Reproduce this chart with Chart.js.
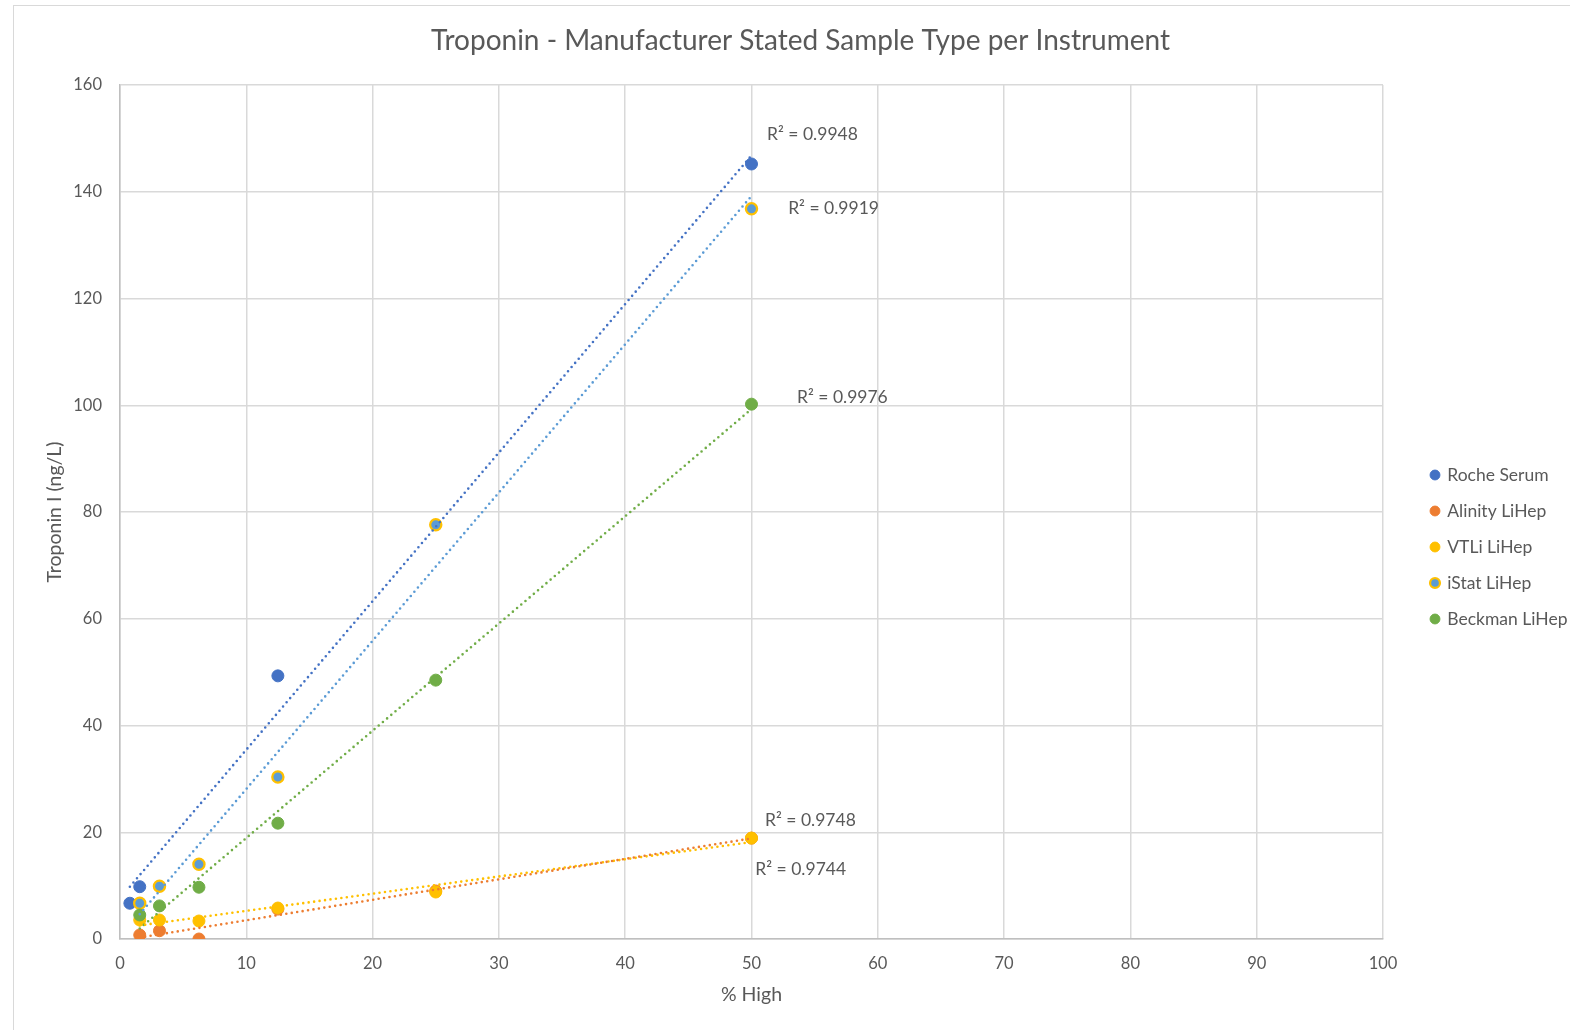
<!DOCTYPE html>
<html>
<head>
<meta charset="utf-8">
<script src="https://cdn.jsdelivr.net/npm/chart.js@4.4.1/dist/chart.umd.min.js"></script>
<style>
  html, body { margin: 0; padding: 0; background: #ffffff; overflow: hidden; width: 1570px; height: 1030px; }
  #frame { position: absolute; left: 13px; top: 5px; width: 1573px; height: 1024px; border: 1px solid #d9d9d9; background: #fff; }
  canvas { display: block; }
</style>
</head>
<body>
<div id="frame"><canvas id="c" width="1573" height="1024"></canvas></div>
<script>
// ---------------- data ----------------
const chartTitle = 'Troponin - Manufacturer Stated Sample Type per Instrument';
const xTitle = '% High';
const yTitle = 'Troponin I (ng/L)';
const seriesNames = ['Roche Serum', 'Alinity LiHep', 'VTLi LiHep', 'iStat LiHep', 'Beckman LiHep'];

const rocheX   = [0.78125, 1.5625, 12.5, 50];
const rocheY   = [6.7, 9.8, 49.3, 145.2];
const lihepX   = [1.5625, 3.125, 6.25, 12.5, 25, 50];
const alinityY = [0.75, 1.55, 0, 5.6, 9.0, 18.9];
const vtliY    = [3.56, 3.56, 3.37, 5.8, 8.8, 18.9];
const istatY   = [6.7, 9.9, 14.0, 30.35, 77.6, 136.8];
const beckmanY = [4.5, 6.2, 9.7, 21.7, 48.5, 100.2];

const r2Text = ['R² = 0.9948', 'R² = 0.9744', 'R² = 0.9748', 'R² = 0.9919', 'R² = 0.9976'];

const xTicks = { min: 0, max: 100, step: 10 };
const yTicks = { min: 0, max: 160, step: 20 };

// ---------------- styles / layout ----------------
const fillColors   = ['#4472C4', '#ED7D31', '#FFC000', '#5B9BD5', '#70AD47'];
const borderColors = ['#4472C4', '#ED7D31', '#FFC000', '#FFC000', '#70AD47'];
const trendColors  = ['#4472C4', '#ED7D31', '#FFC000', '#5B9BD5', '#70AD47'];
// R² label anchors (left edge, vertical middle) in data units
const r2Anchor = [
  { x: 51.23, y: 150.8 },
  { x: 50.3,  y: 13.1 },
  { x: 51.07, y: 22.3 },
  { x: 52.9,  y: 136.8 },
  { x: 53.6,  y: 101.5 }
];
const textColor = '#595959';
const FONT = 'Lato, "Open Sans", sans-serif';

// ---------------- build ----------------
function pts(xs, ys) { return xs.map((x, i) => ({ x: x, y: ys[i] })); }
function fit(xs, ys) {
  const n = xs.length;
  const mx = xs.reduce((a, b) => a + b, 0) / n;
  const my = ys.reduce((a, b) => a + b, 0) / n;
  let sxy = 0, sxx = 0;
  for (let i = 0; i < n; i++) { sxy += (xs[i] - mx) * (ys[i] - my); sxx += (xs[i] - mx) ** 2; }
  const b = sxy / sxx, a = my - b * mx;
  const x0 = Math.min(...xs), x1 = Math.max(...xs);
  return [{ x: x0, y: a + b * x0 }, { x: x1, y: a + b * x1 }];
}

const seriesX = [rocheX, lihepX, lihepX, lihepX, lihepX];
const seriesY = [rocheY, alinityY, vtliY, istatY, beckmanY];

const datasets = [];
seriesNames.forEach((name, i) => {
  const isIstat = i === 3;
  datasets.push({
    label: name,
    data: pts(seriesX[i], seriesY[i]),
    backgroundColor: fillColors[i],
    borderColor: borderColors[i],
    pointBackgroundColor: fillColors[i],
    pointBorderColor: borderColors[i],
    pointBorderWidth: isIstat ? 2.25 : 1,
    borderWidth: isIstat ? 2.25 : 1,
    pointRadius: isIstat ? 5.6 : 6,
    pointHoverRadius: 6,
    showLine: false,
    order: 10 - i
  });
});
seriesNames.forEach((name, i) => {
  datasets.push({
    label: 'trend_' + i,
    isTrend: true,
    data: fit(seriesX[i], seriesY[i]),
    showLine: true,
    borderColor: trendColors[i],
    backgroundColor: trendColors[i],
    borderWidth: 2.6,
    borderDash: [0, 5.5],
    borderCapStyle: 'round',
    pointRadius: 0,
    fill: false,
    order: 1
  });
});

const r2Plugin = {
  id: 'r2labels',
  afterDatasetsDraw(chart) {
    const { ctx, scales } = chart;
    ctx.save();
    ctx.font = '17.5px ' + FONT;
    ctx.fillStyle = textColor;
    ctx.textAlign = 'left';
    ctx.textBaseline = 'middle';
    r2Text.forEach((t, i) => {
      ctx.fillText(t, scales.x.getPixelForValue(r2Anchor[i].x), scales.y.getPixelForValue(r2Anchor[i].y));
    });
    ctx.restore();
  }
};

Chart.defaults.font.family = FONT;
Chart.defaults.color = textColor;

new Chart(document.getElementById('c'), {
  type: 'scatter',
  data: { datasets },
  plugins: [r2Plugin],
  options: {
    responsive: false,
    animation: false,
    layout: { padding: 0 },
    plugins: {
      tooltip: { enabled: false },
      title: {
        display: true,
        text: chartTitle,
        color: textColor,
        font: { size: 28, weight: 'normal', family: FONT },
        padding: { top: 18.2, bottom: 27.2 }
      },
      legend: {
        display: true,
        position: 'right',
        align: 'center',
        maxWidth: 174,
        title: { display: true, text: '', font: { size: 12 }, padding: { top: 43.6, bottom: 0 } },
        labels: {
          usePointStyle: true,
          pointStyle: 'circle',
          boxWidth: 7,
          boxHeight: 7,
          padding: 18.5,
          color: textColor,
          font: { size: 17.5, family: FONT },
          filter: (item, data) => !data.datasets[item.datasetIndex].isTrend,
          sort: (a, b) => a.datasetIndex - b.datasetIndex,
          generateLabels(chart) {
            const items = Chart.defaults.plugins.legend.labels.generateLabels(chart);
            items.forEach(it => { it.text = it.text + '\u2003\u2003\u2003\u2003\u2003\u2003'; });
            return items;
          }
        }
      }
    },
    scales: {
      x: {
        type: 'linear',
        min: xTicks.min, max: xTicks.max,
        ticks: { stepSize: xTicks.step, padding: 15, color: textColor, font: { size: 16.5 } },
        grid: { color: '#D9D9D9', lineWidth: 1.5, drawTicks: false },
        border: { display: true, color: '#BFBFBF', width: 1.5 },
        title: { display: true, text: xTitle, color: textColor, font: { size: 19.5 }, padding: { top: 0, bottom: 23.3 } },
        afterFit(s) { s.height = 91; }
      },
      y: {
        type: 'linear',
        min: yTicks.min, max: yTicks.max,
        ticks: { stepSize: yTicks.step, padding: 18, color: textColor, font: { size: 16.5 } },
        grid: { color: '#D9D9D9', lineWidth: 1.5, drawTicks: false },
        border: { display: true, color: '#BFBFBF', width: 1.5 },
        title: { display: true, text: yTitle, color: textColor, font: { size: 19.5 }, padding: { top: 29.3, bottom: 0 } },
        afterFit(s) { s.width = 106; }
      },
      gap: {
        type: 'linear',
        position: 'right',
        display: true,
        grid: { display: false, drawTicks: false },
        border: { display: false },
        ticks: { display: false },
        afterFit(s) { s.width = 30; }
      }
    }
  }
});
</script>
</body>
</html>
